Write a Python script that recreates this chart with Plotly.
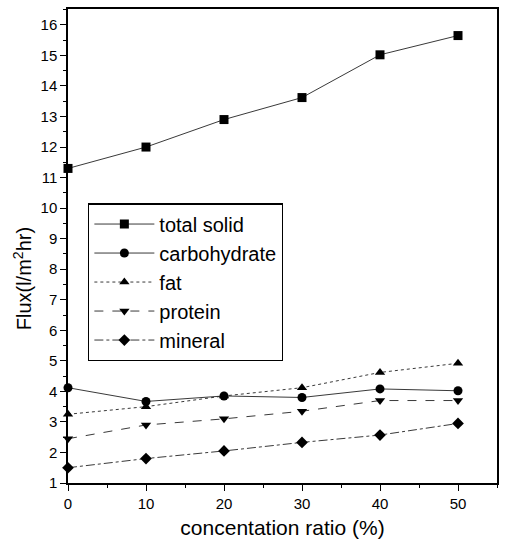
import plotly.graph_objects as go

x = [0, 10, 20, 30, 40, 50]
total_solid = [11.3, 12.0, 12.9, 13.62, 15.02, 15.65]
carbohydrate = [4.12, 3.67, 3.85, 3.8, 4.08, 4.02]
fat = [3.25, 3.5, 3.85, 4.12, 4.62, 4.92]
protein = [2.45, 2.9, 3.1, 3.35, 3.7, 3.7]
mineral = [1.5, 1.8, 2.05, 2.33, 2.57, 2.95]

series = [
    ("total solid", total_solid, "square", "solid"),
    ("carbohydrate", carbohydrate, "circle", "solid"),
    ("fat", fat, "triangle-up", "dot"),
    ("protein", protein, "triangle-down", "dash"),
    ("mineral", mineral, "diamond", "dashdot"),
]

fig = go.Figure()
for name, y, sym, dash in series:
    fig.add_trace(go.Scatter(
        x=x, y=y, name=name, mode="lines+markers",
        line=dict(color="#222", width=0.9, dash=dash),
        marker=dict(symbol=sym, size=9, color="black"),
        cliponaxis=False,
    ))

font = "Liberation Sans, Arial, sans-serif"
fig.update_layout(
    width=508, height=543,
    margin=dict(l=68, r=11, t=7, b=60),
    paper_bgcolor="white", plot_bgcolor="white",
    font=dict(family=font, color="black", size=15),
    legend=dict(
        x=0.047, y=0.59, xanchor="left", yanchor="top",
        bordercolor="black", borderwidth=1.2, bgcolor="white",
        font=dict(size=20), itemwidth=60, tracegroupgap=2,
    ),
    xaxis=dict(
        range=[0, 55], tickvals=[0, 10, 20, 30, 40, 50],
        showgrid=False, zeroline=False, showline=True, linecolor="black",
        linewidth=1.5, mirror=True, ticks="outside", ticklen=6,
        tickcolor="black", minor=dict(ticks="outside", ticklen=3, dtick=5, tickcolor="black"),
        title=dict(text="concentation ratio (%)", font=dict(size=21), standoff=10),
    ),
    yaxis=dict(
        range=[1, 16.52], tickvals=list(range(1, 17)),
        showgrid=False, zeroline=False, showline=True, linecolor="black",
        linewidth=1.5, mirror=True, ticks="outside", ticklen=6,
        tickcolor="black", minor=dict(ticks="outside", ticklen=3, dtick=0.5, tickcolor="black"),
    ),
    annotations=[dict(
        text="Flux(l/m<sup>2</sup>hr)", textangle=-90, showarrow=False,
        xref="paper", yref="paper", x=-0.107, y=0.43,
        xanchor="center", yanchor="middle", font=dict(size=20),
    )],
)

fig.write_html("out.html")
